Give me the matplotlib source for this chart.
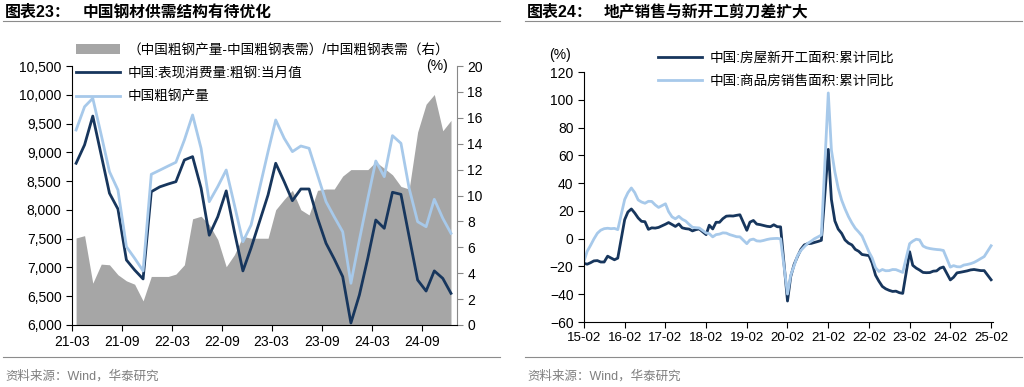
import matplotlib
matplotlib.use('Agg')
import matplotlib.pyplot as plt
import pandas as pd
from matplotlib.patches import Patch
from matplotlib.lines import Line2D
from matplotlib.ticker import FuncFormatter

plt.rcParams['font.family'] = ['Liberation Sans', 'Noto Sans CJK SC']

# ---------------- left chart: steel, monthly 2021-03 .. 2024-12
steel_months = pd.date_range('2021-03-01', periods=46, freq='MS')
steel_consumption = [8810, 9130, 9630, 8950, 8290, 8015, 7130, 6956, 6800, 8316,
                     8400, 8450, 8490, 8867, 8925, 8380, 7560, 7880, 8330, 7620,
                     6940, 7340, 7800, 8260, 8810, 8490, 8160, 8363, 8363, 7854,
                     7420, 7147, 6840, 6035, 6522, 7165, 7824, 7680, 8306, 8270,
                     7535, 6782, 6590, 6940, 6810, 6550]
steel_output = [9388, 9793, 9939, 9300, 8664, 8346, 7360, 7160, 6940, 8618,
                8690, 8763, 8827, 9214, 9649, 9070, 8143, 8404, 8693, 8085,
                7447, 7738, 8375, 9012, 9562, 9244, 9012, 9110, 9070, 8606,
                8143, 7880, 7620, 6725, 7477, 8200, 8850, 8577, 9290, 9157,
                8375, 7795, 7708, 8184, 7854, 7593]
surplus_pct = [6.72, 6.9, 3.23, 4.7, 4.65, 3.88, 3.41, 3.15, 1.86, 3.75,
               3.75, 3.75, 3.93, 4.65, 8.2, 8.4, 7.75, 6.6, 4.5, 5.43,
               6.85, 6.7, 6.7, 6.7, 8.9, 9.7, 10.4, 8.9, 8.5, 10.4,
               10.5, 10.5, 11.5, 12.0, 12.0, 12.0, 12.6, 12.1, 11.6, 10.7,
               10.5, 14.9, 17.05, 17.8, 15.0, 15.8]
left_ticks = ['21-03', '21-09', '22-03', '22-09', '23-03', '23-09', '24-03', '24-09']
left_labels = ['（中国粗钢产量-中国粗钢表需）/中国粗钢表需（右）',
               '中国:表现消费量:粗钢:当月值', '中国粗钢产量']

# ---------------- right chart: property, cumulative yoy, Feb-Dec each year
re_dates = [pd.Timestamp(y, m, 1) for y in range(2015, 2025) for m in range(2, 13)]
re_dates.append(pd.Timestamp(2025, 2, 1))
new_starts = [-17.7, -18.4, -17.3, -16.0, -15.8, -16.8, -16.8, -12.6, -13.9, -15.2, -14.0,  # 2015
              13.7, 19.2, 21.4, 18.5, 14.9, 12.5, 12.2, 6.7, 7.8, 7.6, 8.1,                # 2016
              10.4, 11.6, 10.2, 8.8, 10.6, 7.8, 7.2, 6.9, 5.6, 6.5, 7.0,                   # 2017
              2.9, 9.7, 7.0, 11.8, 11.8, 14.4, 16.2, 16.4, 16.3, 16.8, 17.2,               # 2018
              6.0, 11.9, 13.1, 10.5, 10.1, 9.5, 8.9, 8.6, 10.0, 8.6, 8.5,                  # 2019
              -44.9, -27.2, -18.4, -12.8, -7.6, -4.5, -3.6, -3.4, -2.7, -2.0, -1.2,        # 2020
              64.3, 28.2, 12.8, 6.9, 3.8, -0.9, -3.2, -4.5, -7.7, -9.1, -11.4,             # 2021
              -12.2, -17.5, -26.3, -30.6, -34.4, -36.1, -37.2, -38.0, -37.8, -38.9, -39.4, # 2022
              -9.4, -19.2, -21.2, -22.6, -24.3, -24.5, -24.4, -23.4, -23.2, -21.2, -20.4,  # 2023
              -29.7, -27.8, -24.6, -24.2, -23.7, -23.2, -22.5, -22.2, -22.6, -23.0, -23.0, # 2024
              -29.6]                                                                        # 2025
sales_area = [-16.3, -9.2, -4.8, -0.2, 3.9, 6.1, 7.2, 7.5, 7.2, 7.4, 6.5,
              28.2, 33.1, 36.5, 33.2, 27.9, 26.4, 25.5, 26.9, 26.8, 24.3, 22.5,
              25.1, 19.5, 15.7, 14.3, 16.1, 14.0, 12.7, 10.3, 8.2, 7.9, 7.7,
              4.1, 3.6, 1.3, 2.9, 3.3, 4.2, 4.0, 2.9, 2.2, 1.4, 1.3,
              -3.6, -0.9, -0.3, -1.6, -1.8, -1.3, -0.6, -0.1, 0.1, 0.2, -0.1,
              -39.9, -26.3, -19.3, -12.3, -8.4, -5.8, -3.3, -1.8, 0.0, 1.3, 2.6,
              104.9, 63.8, 48.1, 36.3, 27.7, 21.5, 15.9, 11.3, 7.5, 4.8, 1.9,
              -9.6, -13.8, -20.9, -23.6, -22.2, -23.1, -23.0, -22.2, -22.3, -23.3, -24.3,
              -3.6, -1.8, -0.4, -0.9, -5.3, -6.5, -7.1, -7.5, -7.8, -8.0, -8.5,
              -20.5, -19.4, -20.2, -20.3, -19.0, -18.6, -18.0, -17.1, -15.8, -14.3, -12.9,
              -5.1]
right_ticks = ['15-02', '16-02', '17-02', '18-02', '19-02', '20-02',
               '21-02', '22-02', '23-02', '24-02', '25-02']
right_labels = ['中国:房屋新开工面积:累计同比', '中国:商品房销售面积:累计同比']

DARK = '#17365d'
LIGHT = '#a7c9ea'
GREY = '#a6a6a6'
W, H = 1024, 387


def box(x0, y0, x1, y1):
    return [x0 / W, 1 - y1 / H, (x1 - x0) / W, (y1 - y0) / H]


def fy(y):
    return 1 - y / H


fig = plt.figure(figsize=(W / 100, H / 100), dpi=100)

# ---- left
ax1 = fig.add_axes(box(72, 66, 457, 325))
ax1r = ax1.twinx()
xl = steel_months + pd.Timedelta(days=15)
ax1r.fill_between(xl, 0, surplus_pct, color=GREY, lw=0)
ax1.plot(xl, steel_consumption, color=DARK, lw=2)
ax1.plot(xl, steel_output, color=LIGHT, lw=2)
ax1.set_zorder(ax1r.get_zorder() + 1)
ax1.patch.set_visible(False)

ax1.set_xlim(pd.Timestamp('2021-03-01'), pd.Timestamp('2025-01-07'))
ax1.set_ylim(6000, 10500)
ax1.set_yticks(range(6000, 10501, 500))
ax1.yaxis.set_major_formatter(FuncFormatter(lambda v, p: f'{int(v):,}'))
ax1r.set_ylim(0, 20)
ax1r.set_yticks(range(0, 21, 2))
ax1.set_xticks(pd.date_range('2021-03-01', '2024-09-01', freq='6MS'))
ax1.set_xticklabels(left_ticks)
for s in ['top', 'right']:
    ax1.spines[s].set_visible(False)
for s in ['top', 'left', 'bottom']:
    ax1r.spines[s].set_visible(False)
ax1r.spines['right'].set_color('#888888')
ax1.tick_params(direction='out', length=4, labelsize=10)
ax1r.tick_params(direction='out', length=4, labelsize=10, color='#888888')

handles = [Patch(facecolor=GREY, edgecolor='none'),
           Line2D([], [], color=DARK, lw=2),
           Line2D([], [], color=LIGHT, lw=2)]
fig.legend(handles, left_labels, loc='upper left', bbox_to_anchor=(76 / W, fy(43)),
           frameon=False, fontsize=9.8, handlelength=3.2, handletextpad=0.6,
           labelspacing=0.68, borderpad=0, borderaxespad=0)
fig.text(437 / W, fy(66), '(%)', ha='center', va='center', fontsize=10)

# ---- right
ax2 = fig.add_axes(box(584, 72, 993, 322))
ax2.plot(re_dates, new_starts, color=DARK, lw=2, label=right_labels[0])
ax2.plot(re_dates, sales_area, color=LIGHT, lw=2, label=right_labels[1])
ax2.set_xlim(pd.Timestamp('2015-02-01'), pd.Timestamp('2025-02-18'))
ax2.set_ylim(-60, 120)
ax2.set_yticks(range(-60, 121, 20))
ax2.set_xticks(pd.date_range('2015-02-01', '2025-02-01', freq='12MS'))
ax2.set_xticklabels(right_ticks)
for s in ['top', 'right']:
    ax2.spines[s].set_visible(False)
ax2.tick_params(direction='out', length=4, labelsize=10)
ax2.tick_params(axis='x', labelsize=9.6)
ax2.legend(loc='upper left', bbox_to_anchor=(658 / W, fy(51)), bbox_transform=fig.transFigure,
           frameon=False, fontsize=9.8, handlelength=3.2, handletextpad=0.6,
           labelspacing=0.62, borderpad=0, borderaxespad=0)
fig.text(560 / W, fy(55), '(%)', ha='center', va='center', fontsize=10)

# ---- titles, rules, sources
for x0, tag, x1, title in [(5, '图表23：', 83, '中国钢材供需结构有待优化'),
                           (527, '图表24：', 604, '地产销售与新开工剪刀差扩大')]:
    fig.text(x0 / W, fy(12), tag, fontsize=11.5, fontweight='bold', va='center')
    fig.text(x1 / W, fy(12), title, fontsize=11.3, fontweight='bold', va='center')
    fig.text(x0 / W, fy(376), '资料来源：Wind，华泰研究', fontsize=9, color='#7f7f7f', va='center')

for xa, xb in [(3, 500), (525, 1022)]:
    fig.add_artist(Line2D([xa / W, xb / W], [fy(21), fy(21)], color='#8c8c8c', lw=0.8))
    fig.add_artist(Line2D([xa / W, xb / W], [fy(357), fy(357)], color='#8c8c8c', lw=0.8))

fig.savefig('out.png', dpi=100)
